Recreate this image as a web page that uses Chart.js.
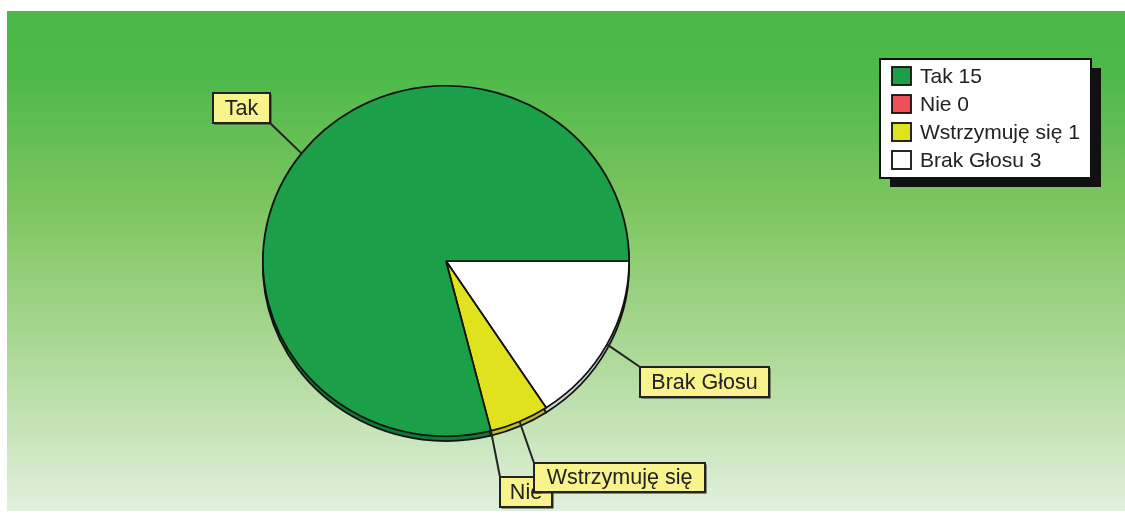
<!DOCTYPE html>
<html>
<head>
<meta charset="utf-8">
<script src="https://cdn.jsdelivr.net/npm/chart.js@4.4.1/dist/chart.umd.min.js"></script>
<style>
  html, body { margin: 0; padding: 0; background: #fff; }
  #wrap { width: 1125px; height: 514px; }
</style>
</head>
<body>
<div id="wrap"><canvas id="pie" width="1125" height="514"></canvas></div>
<script>
'use strict';
// data (legend order)
const labels = ['Tak', 'Nie', 'Wstrzymuję się', 'Brak Głosu'];
const votes = [15, 0, 1, 3];
const colors = ['#1b9f48', '#ef4f58', '#e1e21e', '#ffffff'];
const rimColors = ['#12773a', '#b83a40', '#bdbd22', '#d4d4d4'];

// slices run clockwise from 3 o'clock in reverse legend order
const order = [3, 2, 1, 0];

// layout of call-out boxes (x, y, w, h) and leader side
const callouts = [
  { i: 0, box: [213, 93, 57, 30], hook: 'br' },
  { i: 1, box: [500, 477, 52, 30], hook: 'tl' },
  { i: 2, box: [534, 463, 171, 29], hook: 'tl' },
  { i: 3, box: [640, 367, 129, 30], hook: 'tl' }
];

const FONT = '"Liberation Sans", Arial, sans-serif';
const SQUASH = 0.957;
const RIM = 5;

const bgPlugin = {
  id: 'bg',
  beforeDraw(chart) {
    const ctx = chart.ctx;
    ctx.save();
    ctx.fillStyle = '#fff';
    ctx.fillRect(0, 0, chart.width, chart.height);
    const g = ctx.createLinearGradient(0, 11, 0, 511);
    g.addColorStop(0, '#4ab848');
    g.addColorStop(0.12, '#4cb949');
    g.addColorStop(0.4, '#7fc661');
    g.addColorStop(0.7, '#afda9a');
    g.addColorStop(1, '#e2f0dc');
    ctx.fillStyle = g;
    ctx.fillRect(7, 11, chart.width - 7, 500);
    ctx.restore();
  }
};

function squash(ctx, cx, cy) {
  ctx.translate(cx, cy);
  ctx.scale(1, SQUASH);
  ctx.translate(-cx, -cy);
}

const tiltPlugin = {
  id: 'tilt',
  beforeDatasetsDraw(chart) {
    const ctx = chart.ctx;
    const arcs = chart.getDatasetMeta(0).data;
    const a0 = arcs[0];
    ctx.save();
    squash(ctx, a0.x, a0.y);
    // 3D rim under the pie
    arcs.forEach((a, k) => {
      if (a.endAngle - a.startAngle <= 0) return;
      ctx.beginPath();
      ctx.moveTo(a.x, a.y + RIM);
      ctx.arc(a.x, a.y + RIM, a.outerRadius, a.startAngle, a.endAngle);
      ctx.closePath();
      ctx.fillStyle = rimColors[order[k]];
      ctx.fill();
      ctx.lineWidth = 1.8;
      ctx.strokeStyle = '#111';
      ctx.stroke();
    });
  },
  afterDatasetsDraw(chart) {
    chart.ctx.restore();
  }
};

const calloutPlugin = {
  id: 'callouts',
  afterDraw(chart) {
    const ctx = chart.ctx;
    const arcs = chart.getDatasetMeta(0).data;
    ctx.save();
    ctx.font = '21.5px ' + FONT;
    ctx.textBaseline = 'middle';
    ctx.textAlign = 'center';
    callouts.forEach(c => {
      const a = arcs[order.indexOf(c.i)];
      const mid = (a.startAngle + a.endAngle) / 2;
      const px = a.x + a.outerRadius * Math.cos(mid);
      const py = a.y + a.outerRadius * Math.sin(mid) * SQUASH;
      const [bx, by, bw, bh] = c.box;
      const hx = c.hook === 'br' ? bx + bw : bx;
      const hy = c.hook === 'br' ? by + bh : by;
      ctx.beginPath();
      ctx.moveTo(px, py);
      ctx.lineTo(hx, hy);
      ctx.lineWidth = 2;
      ctx.strokeStyle = '#222';
      ctx.stroke();
      ctx.fillStyle = '#2a2a2a';
      ctx.fillRect(bx + 1.5, by + 1.5, bw, bh);
      ctx.fillStyle = '#f8f38c';
      ctx.fillRect(bx, by, bw, bh);
      ctx.lineWidth = 2;
      ctx.strokeRect(bx, by, bw, bh);
      ctx.fillStyle = '#222';
      ctx.fillText(labels[c.i], bx + bw / 2, by + bh / 2 + 1);
    });
    ctx.restore();
  }
};

const legendPlugin = {
  id: 'boxLegend',
  afterDraw(chart) {
    const ctx = chart.ctx;
    const x = 880, y = 59, w = 211, h = 119;
    ctx.save();
    ctx.fillStyle = '#111';
    ctx.fillRect(x + 10, y + 9, w, h);
    ctx.fillStyle = '#fff';
    ctx.fillRect(x, y, w, h);
    ctx.lineWidth = 2;
    ctx.strokeStyle = '#111';
    ctx.strokeRect(x, y, w, h);
    ctx.font = '21px ' + FONT;
    ctx.textBaseline = 'middle';
    labels.forEach((l, k) => {
      const cy = y + 17 + k * 28;
      ctx.fillStyle = colors[k];
      ctx.fillRect(892, cy - 9, 19, 18);
      ctx.lineWidth = 1.8;
      ctx.strokeRect(892, cy - 9, 19, 18);
      ctx.fillStyle = '#222';
      ctx.fillText(l + ' ' + votes[k], 920, cy + 1);
    });
    ctx.restore();
  }
};

new Chart(document.getElementById('pie'), {
  type: 'pie',
  data: {
    labels: order.map(k => labels[k]),
    datasets: [{
      data: order.map(k => votes[k]),
      backgroundColor: order.map(k => colors[k]),
      borderColor: '#111',
      borderWidth: 1.8
    }]
  },
  options: {
    responsive: false,
    animation: false,
    rotation: 90,
    layout: { padding: { left: 262, right: 495, top: 77, bottom: 69 } },
    plugins: { legend: { display: false }, tooltip: { enabled: false } }
  },
  plugins: [bgPlugin, tiltPlugin, calloutPlugin, legendPlugin]
});
</script>
</body>
</html>
